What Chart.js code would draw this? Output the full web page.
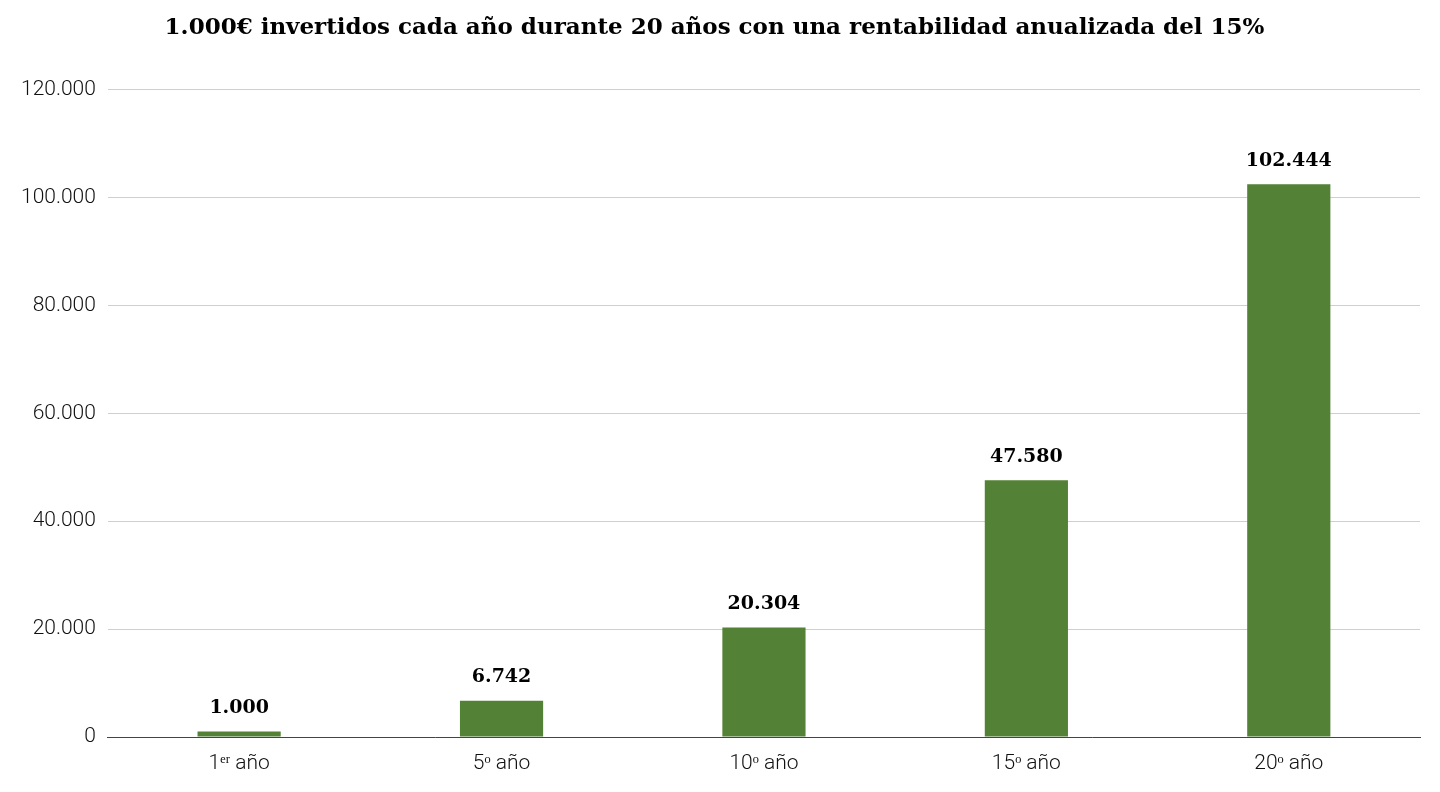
<!DOCTYPE html>
<html>
<head>
	<meta charset="utf-8">
	<title>1.000€ invertidos cada año durante 20 años</title>
	<script src="https://cdn.jsdelivr.net/npm/chart.js@4.4.1/dist/chart.umd.min.js"></script>
	<style>
		html, body {
			margin: 0;
			padding: 0;
			background: #fff;
		}
		#wrap {
			position: relative;
			width: 1440px;
			height: 792px;
		}
	</style>
</head>
<body>
<div id="wrap">
	<canvas id="myChart"></canvas>
</div>
<script>
	const titulo = "1.000€ invertidos cada año durante 20 años con una rentabilidad anualizada del 15%"
	const anos = ["1ᵉʳ año", "5ᵒ año", "10ᵒ año", "15ᵒ año", "20ᵒ año"]
	const valores = [1000, 6742, 20304, 47580, 102444]
	const escalaMax = 120000
	const escalaPaso = 20000

	function miles(n) {
		return String(Math.round(n)).replace(/\B(?=(\d{3})+(?!\d))/g, ".")
	}

	// etiquetas encima de cada barra
	const etiquetas = {
		id: "etiquetas",
		afterDatasetsDraw(chart) {
			const ctx = chart.ctx
			const meta = chart.getDatasetMeta(0)
			ctx.save()
			ctx.font = "bold 19px 'DejaVu Serif'"
			ctx.fillStyle = "#000"
			ctx.textAlign = "center"
			ctx.textBaseline = "bottom"
			meta.data.forEach((bar, i) => {
				ctx.fillText(miles(valores[i]), bar.x, bar.y - 14)
			})
			ctx.restore()
		}
	}

	let ctx = document.getElementById("myChart").getContext("2d")
	let myChart = new Chart(ctx, {
		type: "bar",
		data: {
			labels: anos,
			datasets: [{
				data: valores,
				backgroundColor: "#538135",
				borderWidth: 0,
				barPercentage: 0.317,
				categoryPercentage: 1
			}]
		},
		options: {
			responsive: true,
			maintainAspectRatio: false,
			animation: false,
			layout: {
				padding: {left: 9, right: 20, top: 4, bottom: 2}
			},
			plugins: {
				legend: {display: false},
				tooltip: {enabled: false},
				title: {
					display: true,
					text: titulo,
					color: "#000",
					font: {family: "'DejaVu Serif'", size: 23, weight: "bold"},
					padding: {top: 10, bottom: 48}
				}
			},
			scales: {
				x: {
					grid: {display: false, drawTicks: false},
					border: {display: true, color: "#444", width: 1},
					ticks: {
						color: "#111",
						padding: 16,
						font: {family: "Roboto", size: 21, weight: 300, lineHeight: 1}
					}
				},
				y: {
					min: 0,
					max: escalaMax,
					grid: {color: "#cfcfcf", drawTicks: false},
					border: {display: false},
					ticks: {
						stepSize: escalaPaso,
						color: "#111",
						padding: 12,
						font: {family: "Roboto", size: 21, weight: 300},
						callback: v => miles(v)
					}
				}
			}
		},
		plugins: [etiquetas]
	})
</script>
</body>
</html>
